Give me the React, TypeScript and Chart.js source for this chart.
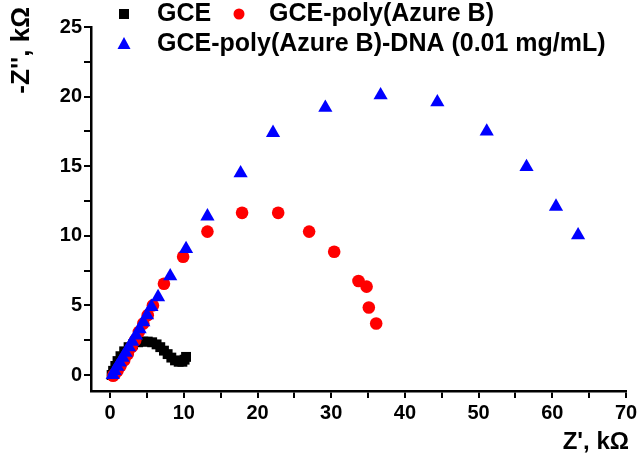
import React, { useEffect, useRef } from "react";
import { Chart, registerables } from "chart.js";
Chart.register(...registerables);

const seriesNames = ["GCE", "GCE-poly(Azure B)", "GCE-poly(Azure B)-DNA (0.01 mg/mL)"];

const gceX = [0.2, 0.4, 0.7, 1.0, 1.4, 1.9, 2.5, 3.1, 3.8, 4.5, 5.1, 5.7, 6.3, 6.8, 7.3, 7.8, 8.3, 8.8, 9.3, 9.8, 10.1, 10.3];
const gceY = [0.0, 0.3, 0.65, 1.0, 1.35, 1.7, 2.0, 2.2, 2.35, 2.4, 2.4, 2.35, 2.2, 2.0, 1.75, 1.5, 1.25, 1.05, 0.95, 0.95, 1.1, 1.3];

const polyX = [0.4, 0.6, 1.0, 1.4, 1.9, 2.4, 2.9, 3.4, 3.9, 4.5, 5.1, 5.8, 7.3, 9.9, 13.2, 17.9, 22.8, 27.0, 30.4, 33.7, 34.8, 35.1, 36.1];
const polyY = [-0.05, 0.05, 0.3, 0.65, 1.05, 1.5, 2.0, 2.5, 3.1, 3.7, 4.3, 5.0, 6.55, 8.5, 10.3, 11.65, 11.65, 10.3, 8.85, 6.75, 6.35, 4.85, 3.7];

const dnaX = [0.35, 0.6, 0.95, 1.3, 1.7, 2.1, 2.55, 3.0, 3.5, 4.0, 4.5, 5.0, 5.6, 6.5, 8.15, 10.3, 13.2, 17.7, 22.1, 29.2, 36.7, 44.4, 51.1, 56.5, 60.5, 63.5];
const dnaY = [0.0, 0.3, 0.6, 0.9, 1.25, 1.6, 2.0, 2.4, 2.85, 3.3, 3.8, 4.3, 4.9, 5.6, 7.1, 9.05, 11.4, 14.5, 17.4, 19.2, 20.1, 19.6, 17.5, 14.95, 12.1, 10.05];

const xTickValues = [0, 10, 20, 30, 40, 50, 60, 70];
const yTickValues = [0, 5, 10, 15, 20, 25];

const xTitle = "Z', kΩ";
const yTitle = "-Z'', kΩ";

const FONT = "'Liberation Sans', Arial, sans-serif";

const toPts = (xs: number[], ys: number[]) => xs.map((x, i) => ({ x, y: ys[i] }));

const overlayPlugin = {
  id: "overlay",
  afterDraw(chart: any) {
    const ctx = chart.ctx as CanvasRenderingContext2D;
    ctx.save();
    ctx.fillStyle = "#000";
    // y title
    ctx.font = `bold 26px ${FONT}`;
    ctx.save();
    ctx.translate(22, 7);
    ctx.rotate(-Math.PI / 2);
    ctx.textAlign = "right";
    ctx.textBaseline = "middle";
    ctx.fillText(yTitle, 0, 0);
    ctx.restore();
    // x title
    ctx.font = `bold 24px ${FONT}`;
    ctx.textAlign = "right";
    ctx.textBaseline = "middle";
    ctx.fillText(xTitle, 629, 442);

    // legend
    ctx.font = `bold 25px ${FONT}`;
    ctx.textAlign = "left";
    ctx.textBaseline = "middle";
    const drawMarker = (kind: string, x: number, y: number, color: string) => {
      ctx.fillStyle = color;
      ctx.beginPath();
      if (kind === "rect") {
        ctx.rect(x - 5, y - 5, 10, 10);
      } else if (kind === "circle") {
        ctx.arc(x, y, 5.5, 0, Math.PI * 2);
      } else {
        ctx.moveTo(x, y - 7);
        ctx.lineTo(x + 6.5, y + 5);
        ctx.lineTo(x - 6.5, y + 5);
        ctx.closePath();
      }
      ctx.fill();
    };
    drawMarker("rect", 124, 14, "#000");
    ctx.fillStyle = "#000";
    ctx.fillText(seriesNames[0], 157, 14);
    drawMarker("circle", 239, 14, "#ff0000");
    ctx.fillStyle = "#000";
    ctx.fillText(seriesNames[1], 269, 14);
    drawMarker("triangle", 124, 44, "#0000ff");
    ctx.fillStyle = "#000";
    ctx.fillText(seriesNames[2], 157, 44);
    ctx.restore();
  },
};

export default function App() {
  const ref = useRef<HTMLCanvasElement>(null);
  useEffect(() => {
    if (!ref.current) return;
    const chart = new Chart(ref.current, {
      type: "scatter",
      data: {
        datasets: [
          {
            label: seriesNames[0],
            data: toPts(gceX, gceY),
            pointStyle: "rect",
            pointRadius: 7,
            backgroundColor: "#000000",
            borderColor: "#000000",
            borderWidth: 0,
            order: 2,
          },
          {
            label: seriesNames[1],
            data: toPts(polyX, polyY),
            pointStyle: "circle",
            pointRadius: 6.3,
            backgroundColor: "#ff0000",
            borderColor: "#ff0000",
            borderWidth: 0,
            order: 1,
          },
          {
            label: seriesNames[2],
            data: toPts(dnaX, dnaY),
            pointStyle: "triangle",
            pointRadius: 8.2,
            backgroundColor: "#0000ff",
            borderColor: "#0000ff",
            borderWidth: 0,
            order: 0,
          },
        ],
      },
      options: {
        animation: false,
        responsive: false,
        layout: { padding: { top: 27, right: 17, left: 0, bottom: 0 } },
        plugins: { legend: { display: false }, tooltip: { enabled: false } },
        scales: {
          x: {
            type: "linear",
            min: -2.6,
            max: 70,
            afterFit: (s: any) => { s.height = 81; },
            afterBuildTicks: (s: any) => {
              s.ticks = [];
              for (let v = 0; v <= 70; v += 5) s.ticks.push({ value: v });
            },
            border: { display: true, color: "#000", width: 2.5 },
            grid: { display: true, drawOnChartArea: false, drawTicks: true, tickLength: 7, color: "#000", lineWidth: 2 },
            ticks: {
              color: "#000",
              font: { family: FONT, size: 20, weight: "bold" },
              padding: 3,
              maxRotation: 0,
              autoSkip: false,
              callback: (v: any) => (xTickValues.includes(Number(v)) ? String(v) : ""),
            },
          },
          y: {
            type: "linear",
            min: -1.15,
            max: 25,
            afterFit: (s: any) => { s.width = 91; },
            afterBuildTicks: (s: any) => {
              s.ticks = [];
              for (let v = 0; v <= 25; v += 2.5) s.ticks.push({ value: v });
            },
            border: { display: true, color: "#000", width: 2.5 },
            grid: { display: true, drawOnChartArea: false, drawTicks: true, tickLength: 7, color: "#000", lineWidth: 2 },
            ticks: {
              color: "#000",
              font: { family: FONT, size: 20, weight: "bold" },
              padding: 2,
              autoSkip: false,
              callback: (v: any) => (yTickValues.includes(Number(v)) ? String(v) : ""),
            },
          },
        },
      },
      plugins: [overlayPlugin],
    });
    return () => chart.destroy();
  }, []);
  return (
    <div style={{ position: "absolute", left: 0, top: 0, width: 643, height: 472, background: "#fff" }}>
      <canvas ref={ref} width={643} height={472} style={{ width: 643, height: 472 }} />
    </div>
  );
}
